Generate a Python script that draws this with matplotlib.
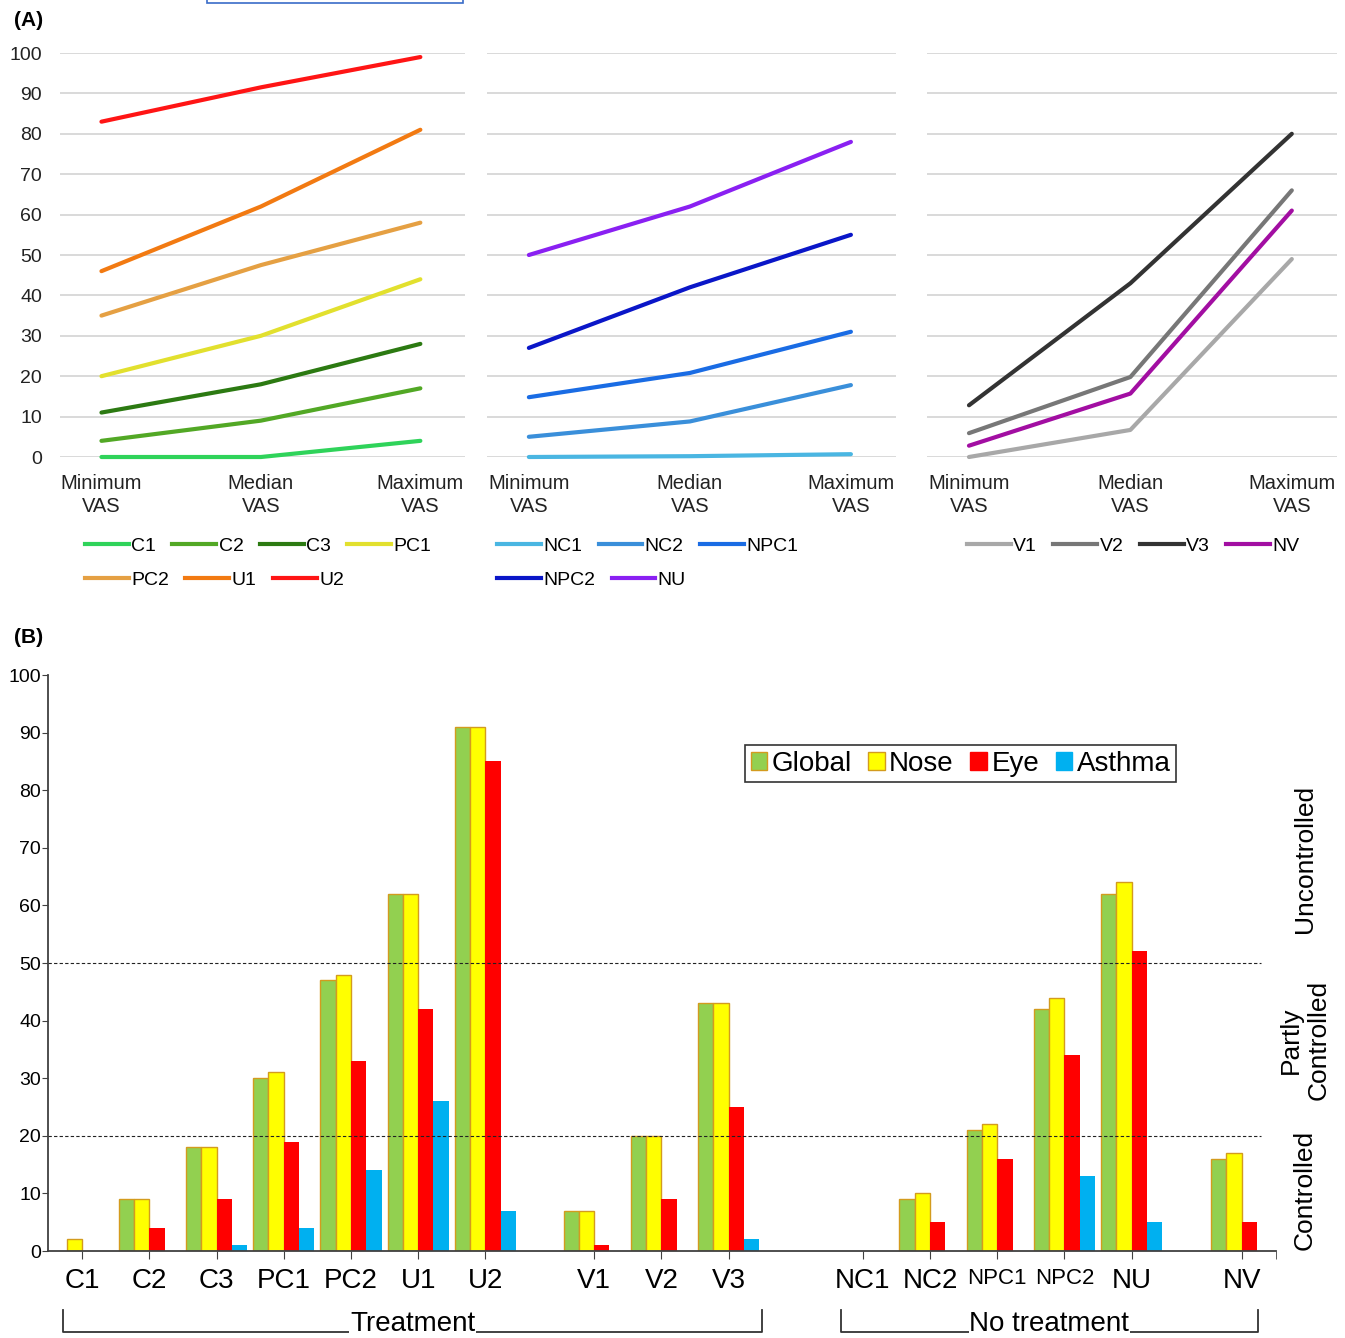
import matplotlib.pyplot as plt
import numpy as np
import matplotlib.transforms as mtransforms
from matplotlib.lines import Line2D
from matplotlib.patches import Patch, Rectangle

plt.rcParams['font.family'] = ['Liberation Sans', 'DejaVu Sans']

W, H = 1345, 1338

# ---------------- panel (A) data: VAS min / median / max per group
vas_labels = ['Minimum\nVAS', 'Median\nVAS', 'Maximum\nVAS']

treat_names = ['C1', 'C2', 'C3', 'PC1', 'PC2', 'U1', 'U2']
treat_vas = [[0, 0, 4], [4, 9, 17], [11, 18, 28], [20, 30, 44],
             [35, 47.5, 58], [46, 62, 81], [83, 91.5, 99]]
treat_colors = ['#2fd35a', '#52a825', '#2c7a12', '#e2e02e', '#e5a043', '#f27a12', '#ff1515']

notreat_names = ['NC1', 'NC2', 'NPC1', 'NPC2', 'NU']
notreat_vas = [[0, 0.2, 0.7], [5, 8.8, 17.8], [14.8, 20.8, 31], [27, 42, 55], [50, 62, 78]]
notreat_colors = ['#4ab6e2', '#3a8fda', '#1a6ce4', '#0a16c8', '#8a20f2']

v_names = ['V1', 'V2', 'V3', 'NV']
v_vas = [[0, 6.7, 49], [5.9, 19.8, 66], [12.8, 43, 80], [2.8, 15.7, 61]]
v_colors = ['#a8a8a8', '#777777', '#333333', '#a20ea2']

# ---------------- panel (B) data: % uncontrolled
groups = ['C1', 'C2', 'C3', 'PC1', 'PC2', 'U1', 'U2', 'V1', 'V2', 'V3',
          'NC1', 'NC2', 'NPC1', 'NPC2', 'NU', 'NV']
global_pct = [0, 9, 18, 30, 47, 62, 91, 7, 20, 43, 0, 9, 21, 42, 62, 16]
nose_pct = [2, 9, 18, 31, 48, 62, 91, 7, 20, 43, 0, 10, 22, 44, 64, 17]
eye_pct = [0, 4, 9, 19, 33, 42, 85, 1, 9, 25, 0, 5, 16, 34, 52, 5]
asthma_pct = [0, 0, 1, 4, 14, 26, 7, 0, 0, 2, 0, 0, 0, 13, 5, 0]
bar_names = ['Global', 'Nose', 'Eye', 'Asthma']
bar_colors = ['#92d050', '#ffff00', '#ff0000', '#00b0f0']
bar_edges = ['#d39b1e', '#d39b1e', 'none', 'none']

fig = plt.figure(figsize=(W / 100, H / 100), dpi=100)


def px_axes(x0, y0, x1, y1):
    return fig.add_axes([x0 / W, 1 - y1 / H, (x1 - x0) / W, (y1 - y0) / H])


def row_legend(names, colors, x, y):
    handles = [Line2D([], [], color=c, lw=3) for c in colors]
    fig.legend(handles, names, loc='center left', bbox_to_anchor=(x / W, 1 - y / H),
               ncol=len(names), frameon=False, fontsize=14, handlelength=2.25,
               handletextpad=0.12, columnspacing=0.85, borderpad=0, borderaxespad=0)


panels = [
    ((60, 465), treat_names, treat_vas, treat_colors, 85,
     [[0, 1, 2, 3], [4, 5, 6]]),
    ((487, 896), notreat_names, notreat_vas, notreat_colors, 497,
     [[0, 1, 2], [3, 4]]),
    ((927, 1337), v_names, v_vas, v_colors, 967, [[0, 1, 2, 3]]),
]

for i, ((x0, x1), names, vas, colors, leg_x, rows) in enumerate(panels):
    ax = px_axes(x0, 53, x1, 457)
    for name, vals, c in zip(names, vas, colors):
        ax.plot(range(3), vals, color=c, lw=3, solid_capstyle='round', clip_on=False)
    ax.set_xlim(-0.26, 2.28)
    ax.set_ylim(0, 100)
    ax.set_yticks(range(0, 101, 10))
    ax.grid(axis='y', color='#d9d9d9', lw=1.4)
    ax.set_axisbelow(True)
    for s in ax.spines.values():
        s.set_visible(False)
    ax.set_xticks(range(3))
    ax.set_xticklabels(vas_labels, fontsize=14.5, color='#222222', linespacing=1.3)
    ax.tick_params(length=0)
    ax.tick_params(axis='x', pad=12)
    ax.tick_params(axis='y', pad=13, labelsize=14, labelcolor='#222222')
    if i > 0:
        ax.set_yticklabels([])
    for r, row in enumerate(rows):
        row_legend([names[k] for k in row], [colors[k] for k in row], leg_x, 546 + 34 * r)

fig.text(14 / W, 1 - 20 / H, '(A)', fontsize=15, fontweight='bold', va='center')
fig.text(14 / W, 1 - 637 / H, '(B)', fontsize=15, fontweight='bold', va='center')
fig.add_artist(Rectangle((207 / W, 1 - 2.5 / H), 256 / W, 3 / H, fill=False,
                         edgecolor='#3a6cc8', lw=1.2))

# ---------------- panel (B)
axb = px_axes(48, 675, 1276, 1251)
gap_before = np.zeros(len(groups))
gap_before[groups.index('V1')] = 0.62
gap_before[groups.index('NC1')] = 1.0
gap_before[groups.index('NV')] = 0.64
xpos = np.cumsum(1 + gap_before) - 1

bw = 0.228
for k, (vals, name) in enumerate(zip([global_pct, nose_pct, eye_pct, asthma_pct], bar_names)):
    edges = [bar_edges[k] if v > 0 else 'none' for v in vals]
    axb.bar(xpos + (k - 1.5) * bw, vals, bw, color=bar_colors[k], edgecolor=edges,
            linewidth=1.0, label=name, zorder=3)

xlim = (-0.51, xpos[-1] + 0.51)
axb.set_xlim(xlim)
axb.set_ylim(0, 100)
axb.set_yticks(range(0, 101, 10))
axb.hlines([20, 50], xlim[0], xpos[-1] + 0.28, colors='#222222',
           linestyles=(0, (3, 2)), lw=0.8, zorder=4)

for side in ['top', 'right']:
    axb.spines[side].set_visible(False)
for side in ['left', 'bottom']:
    axb.spines[side].set_color('#404040')
    axb.spines[side].set_linewidth(1.3)
    axb.spines[side].set_zorder(5)

axb.set_xticks(xpos)
axb.set_xticklabels(groups, fontsize=20)
for lab in axb.get_xticklabels():
    if lab.get_text().startswith('NPC'):
        lab.set_fontsize(16)
axb.set_xticks([xlim[1]], minor=True)
axb.tick_params(axis='x', which='both', length=6, color='#404040', pad=6)
axb.tick_params(axis='y', length=4, color='#404040', labelsize=14, pad=1)

leg_handles = [Patch(facecolor=c, edgecolor=(e if e != 'none' else c))
               for c, e in zip(bar_colors, bar_edges)]
leg = axb.legend(leg_handles, bar_names, loc='upper left',
                 bbox_to_anchor=((745 - 48) / 1228, (1251 - 745) / 576),
                 ncol=4, fontsize=20, fancybox=False, framealpha=1, edgecolor='#333333',
                 handlelength=0.6, handleheight=0.6, handletextpad=0.15,
                 columnspacing=0.6, borderpad=0.2, borderaxespad=0)
leg.get_frame().set_linewidth(1.2)

# control zones at the right
tr = mtransforms.blended_transform_factory(axb.transAxes, axb.transData)
axb.text(1.0236, 68, 'Uncontrolled', transform=tr, rotation=90, fontsize=19,
         ha='center', va='center', clip_on=False)
axb.text(1.0236, 36.6, 'Partly\nControlled', transform=tr, rotation=90, fontsize=19,
         ha='center', va='center', multialignment='center', clip_on=False)
axb.text(1.0236, 10.6, 'Controlled', transform=tr, rotation=90, fontsize=19,
         ha='center', va='center', clip_on=False)

# group brackets
trf = mtransforms.blended_transform_factory(axb.transData, fig.transFigure)
y_hi, y_lo = 1 - 1310 / H, 1 - 1332 / H
brackets = [('Treatment', xpos[0] - 0.28, xpos[groups.index('V3')] + 0.5),
            ('No treatment', xpos[groups.index('NC1')] - 0.33, xpos[-1] + 0.24)]
for label, xa, xb in brackets:
    axb.plot([xa, xa, xb, xb], [y_hi, y_lo, y_lo, y_hi], color='#333333', lw=1.3,
             transform=trf, clip_on=False)
    axb.text((xa + xb) / 2, 1 - 1337 / H, label, transform=trf, fontsize=20,
             ha='center', va='bottom', clip_on=False,
             bbox=dict(facecolor='white', edgecolor='none', pad=0.5))

fig.savefig('out.png', dpi=100)
